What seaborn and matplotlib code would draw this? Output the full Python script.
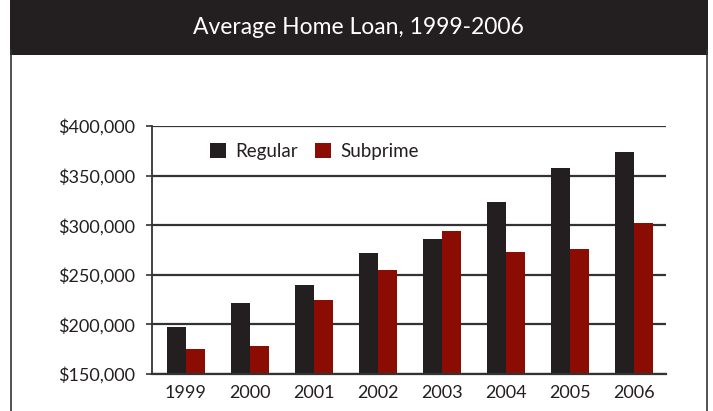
import matplotlib
matplotlib.use("Agg")
import matplotlib.pyplot as plt
import seaborn as sns
import pandas as pd
from matplotlib.patches import Rectangle
from matplotlib.lines import Line2D
from matplotlib.ticker import FuncFormatter

years = ["1999", "2000", "2001", "2002", "2003", "2004", "2005", "2006"]
regular = [197000, 222000, 240000, 272000, 286000, 323000, 358000, 374000]
subprime = [175000, 178000, 225000, 255000, 294000, 273000, 276000, 302000]
series_names = ["Regular", "Subprime"]
colors = ["#231f20", "#8b0c02"]
title = "Average Home Loan, 1999-2006"

df = pd.DataFrame({
    "Year": years * 2,
    "Value": regular + subprime,
    "Series": [series_names[0]] * len(years) + [series_names[1]] * len(years),
})

sns.set_theme(style="white")
plt.rcParams["font.family"] = ["Lato", "DejaVu Sans"]
text_color = "#231f20"

fig = plt.figure(figsize=(7.13, 4.11), dpi=100)
ax = fig.add_axes([152 / 713, 1 - 374 / 411, (666 - 152) / 713, (374 - 126) / 411])

sns.barplot(data=df, x="Year", y="Value", hue="Series", palette=colors,
            width=0.6, saturation=1, ax=ax, legend=True, errorbar=None,
            linewidth=0, edgecolor="none")

ax.set_ylim(150000, 400000)
ax.set_xlim(-0.53, 7.5)
ax.set_yticks([150000, 200000, 250000, 300000, 350000, 400000])
ax.yaxis.set_major_formatter(FuncFormatter(lambda v, p: "${:,.0f}".format(v)))
ax.set_xlabel("")
ax.set_ylabel("")
ax.grid(axis="y", color="#333333", linewidth=1.6)
ax.set_axisbelow(True)
for s in ["top", "right"]:
    ax.spines[s].set_visible(False)
ax.spines["left"].set_color("#333333")
ax.spines["left"].set_linewidth(1.3)
ax.spines["bottom"].set_color("#333333")
ax.spines["bottom"].set_linewidth(1.6)
ax.tick_params(axis="y", which="both", left=True, length=4, width=1.2, color="#333333",
               labelsize=13, labelcolor=text_color, pad=8)
ax.tick_params(axis="x", length=0, labelsize=13, labelcolor=text_color, pad=8)

handles, labels = ax.get_legend_handles_labels()
ax.legend(handles, labels, loc="upper left", bbox_to_anchor=(0.08, 1.0), ncol=2,
          frameon=False, fontsize=13.5, handlelength=0.85, handleheight=0.85,
          handletextpad=0.5, columnspacing=0.9, labelcolor=text_color)

# title bar and frame
fig.add_artist(Rectangle((10 / 713, 1 - 55 / 411), (708 - 10) / 713, 55 / 411,
                         transform=fig.transFigure, facecolor="#231f20", edgecolor="none"))
fig.text(358 / 713, 1 - 27 / 411, title, color="white", fontsize=16.5,
         ha="center", va="center")
fig.add_artist(Line2D([11 / 713, 11 / 713], [0, 1 - 50 / 411], transform=fig.transFigure,
                      color="#333333", linewidth=1.2))
fig.add_artist(Line2D([707 / 713, 707 / 713], [0, 1 - 50 / 411], transform=fig.transFigure,
                      color="#333333", linewidth=1.2))

fig.savefig("out.png", dpi=100)
